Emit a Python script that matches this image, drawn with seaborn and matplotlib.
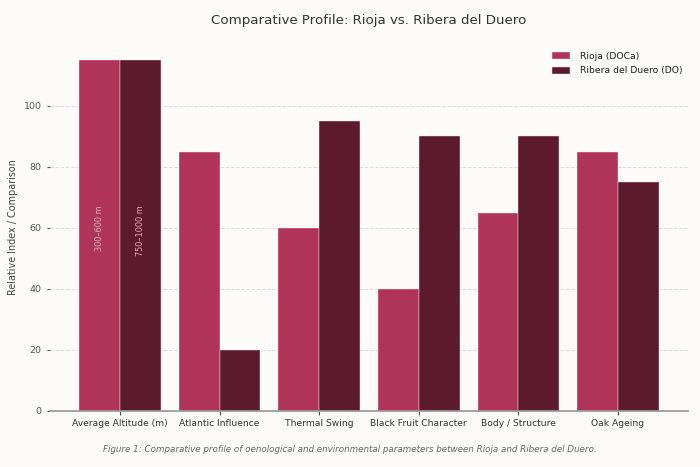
import matplotlib
matplotlib.use("Agg")
import matplotlib.pyplot as plt
import seaborn as sns
import pandas as pd

categories = ["Average Altitude (m)", "Atlantic Influence", "Thermal Swing",
              "Black Fruit Character", "Body / Structure", "Oak Ageing"]
rioja = [115, 85, 60, 40, 65, 85]
ribera = [115, 20, 95, 90, 90, 75]
series_names = ["Rioja (DOCa)", "Ribera del Duero (DO)"]
altitude_labels = ["300–600 m", "750–1000 m"]
altitude_label_top = 67.5

df = pd.DataFrame({
    "Parameter": categories * 2,
    "Value": rioja + ribera,
    "Region": [series_names[0]] * len(categories) + [series_names[1]] * len(categories),
})

bg = "#fcfbfa"
sns.set_theme(style="white")
plt.rcParams["font.family"] = ["DejaVu Sans"]

fig = plt.figure(figsize=(7, 4.67), dpi=100, facecolor=bg)
ax = fig.add_axes([0.0714, 0.12, 0.9115, 0.787])
ax.set_facecolor(bg)

palette = {series_names[0]: "#b0345a", series_names[1]: "#5c1a2e"}
sns.barplot(data=df, x="Parameter", y="Value", hue="Region", palette=palette,
            width=0.82, saturation=1, ax=ax, edgecolor="#fbe8ee", linewidth=0.3,
            legend=True)

ax.set_xlim(-0.703, 5.703)
ax.set_ylim(0, 120.5)
ax.set_yticks([0, 20, 40, 60, 80, 100])
ax.yaxis.grid(True, linestyle="--", color="#dddddd", linewidth=0.7)
ax.set_axisbelow(True)
for s in ["top", "right", "left"]:
    ax.spines[s].set_visible(False)
ax.spines["bottom"].set_color("#999999")
ax.tick_params(axis="y", colors="#555555", labelsize=6.8, length=2.5,
               left=True, width=0.8, pad=3.5)
ax.tick_params(axis="x", colors="#555555", labelsize=6.6, length=3,
               bottom=True, width=0.8, pad=3)
for lbl in ax.get_xticklabels():
    lbl.set_color("#333333")
ax.set_xlabel("")
ax.set_ylabel("Relative Index / Comparison", fontsize=6.9, color="#444444",
              labelpad=4)

# altitude annotations inside first group bars
for cont, txt in zip(ax.containers, altitude_labels):
    bar = cont.patches[0]
    ax.text(bar.get_x() + bar.get_width() / 2, altitude_label_top, txt,
            rotation=90, ha="center", va="top", fontsize=5.9,
            color="#e3aec0")

leg = ax.legend(loc="upper right", frameon=False, fontsize=6.7,
                handlelength=1.95, handleheight=0.75, handletextpad=1.0,
                labelspacing=0.6, bbox_to_anchor=(1.004, 1.0))
for t in leg.get_texts():
    t.set_color("#222222")

ax.set_title("Comparative Profile: Rioja vs. Ribera del Duero", pad=14,
             fontsize=9.6, color="#333333")
fig.text(0.5, 0.037,
         "Figure 1: Comparative profile of oenological and environmental parameters between Rioja and Ribera del Duero.",
         ha="center", va="center", fontsize=6.3, style="italic", color="#666666")

fig.savefig("out.png", dpi=100, facecolor=bg)
